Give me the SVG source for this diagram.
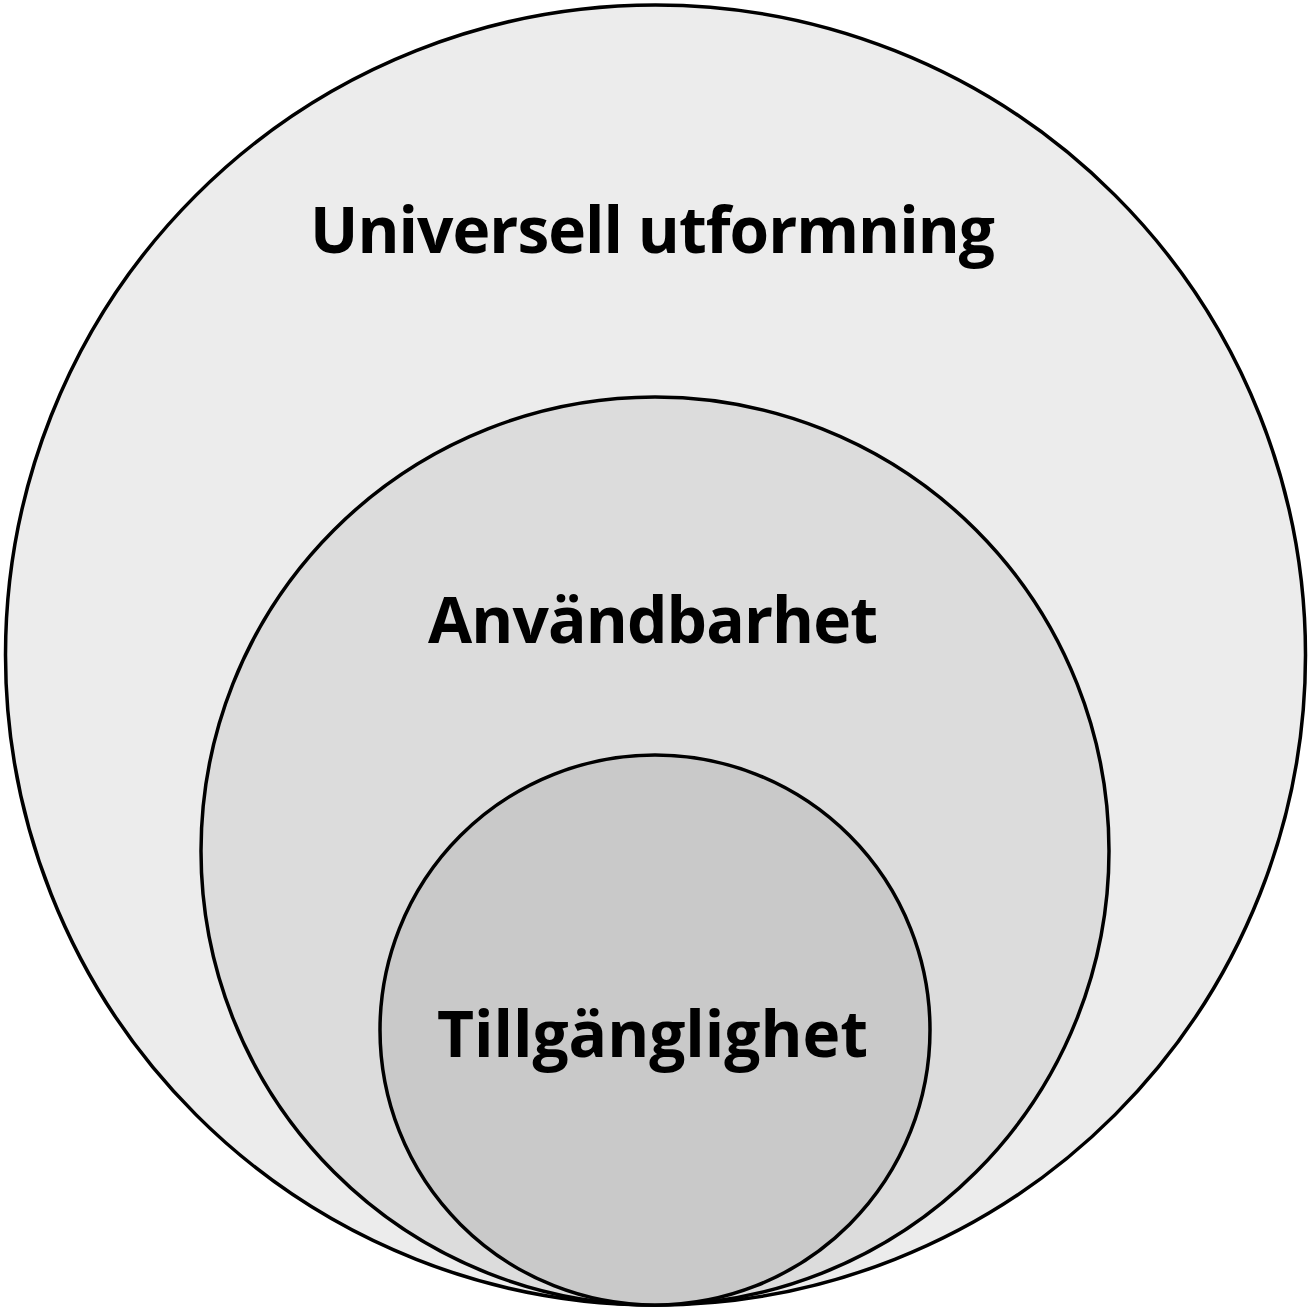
<svg xmlns="http://www.w3.org/2000/svg" width="1310" height="1310" viewBox="0 0 1310 1310">
<style>
.c{stroke:#000;stroke-width:3.5}
.t{font-family:"Open Sans","Liberation Sans",sans-serif;font-weight:bold;font-size:64px;text-anchor:middle;fill:#000}
</style>
<rect width="1310" height="1310" fill="#fff"/>
<g id="outer"><circle class="c" cx="655.5" cy="655" r="650" fill="#ececec"/><text class="t" x="652.5" y="253" textLength="685">Universell utformning</text></g>
<g id="middle"><circle class="c" cx="655" cy="851" r="454" fill="#dcdcdc"/><text class="t" x="653" y="643" textLength="450">Användbarhet</text></g>
<g id="inner"><circle class="c" cx="655" cy="1030" r="275" fill="#c9c9c9"/><text class="t" x="652.5" y="1057" textLength="431">Tillgänglighet</text></g>
<g id="connectors"/>
</svg>
